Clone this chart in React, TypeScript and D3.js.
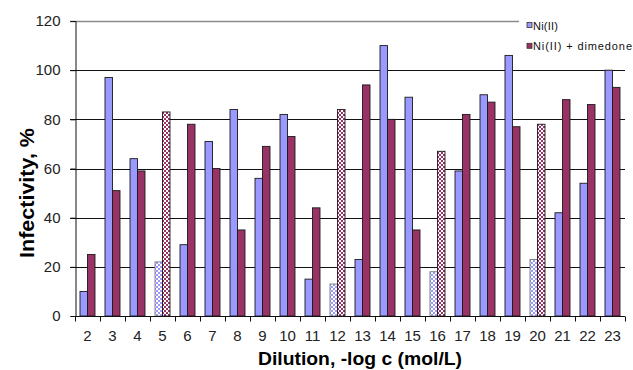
import React, { useEffect, useRef } from 'react';
import * as d3 from 'd3';

// dilution steps (-log c)
const categories = ['2', '3', '4', '5', '6', '7', '8', '9', '10', '11', '12', '13', '14', '15', '16', '17', '18', '19', '20', '21', '22', '23'];
const niValues = [10, 97, 64, 22, 29, 71, 84, 56, 82, 15, 13, 23, 110, 89, 18, 59, 90, 106, 23, 42, 54, 100];
const niDimedoneValues = [25, 51, 59, 83, 78, 60, 35, 69, 73, 44, 84, 94, 80, 35, 67, 82, 87, 77, 78, 88, 86, 93];
// dilutions drawn with the checkered fill
const checkered = ['5', '12', '16', '20'];
const seriesNames = ['Ni(II)', 'Ni(II) + dimedone'];
const yTicks = [0, 20, 40, 60, 80, 100, 120];

const colors = { ni: '#9999ff', dim: '#993366' };
const FONT = '"Liberation Sans", Arial, sans-serif';

function drawChart(node: SVGSVGElement) {
  const svg = d3.select(node);
  svg.selectAll('*').remove();

  const margin = { left: 75, right: 8, top: 21, bottom: 54 };
  const W = 633, H = 370;

  const x = d3.scaleBand().domain(categories).range([margin.left, W - margin.right]).padding(0);
  const xs = d3.scaleBand().domain(seriesNames).range([0, x.bandwidth()]).paddingInner(0).paddingOuter(0.667);
  const y = d3.scaleLinear().domain([0, 120]).range([H - margin.bottom, margin.top]);

  // checker patterns
  const defs = svg.append('defs');
  [['chkNi', colors.ni], ['chkDim', colors.dim]].forEach(([id, c]) => {
    const p = defs.append('pattern')
      .attr('id', id)
      .attr('width', 4).attr('height', 4)
      .attr('patternUnits', 'userSpaceOnUse');
    p.append('rect').attr('width', 4).attr('height', 4).attr('fill', '#fff');
    p.append('rect').attr('width', 2).attr('height', 2).attr('fill', c);
    p.append('rect').attr('x', 2).attr('y', 2).attr('width', 2).attr('height', 2).attr('fill', c);
  });

  // gridlines
  svg.append('g')
    .selectAll('line')
    .data(yTicks.filter(d => d > 0))
    .join('line')
    .attr('x1', margin.left - 5)
    .attr('x2', W - margin.right)
    .attr('y1', d => Math.round(y(d)) + 0.5)
    .attr('y2', d => Math.round(y(d)) + 0.5)
    .attr('stroke', d => (d === 120 ? '#8c8c8c' : '#111'))
    .attr('stroke-width', d => (d === 120 ? 1.5 : 1));

  // bars
  const rows = categories.map((c, i) => ({ cat: c, vals: [niValues[i], niDimedoneValues[i]] }));
  const groups = svg.append('g')
    .selectAll('g')
    .data(rows)
    .join('g')
    .attr('transform', d => 'translate(' + x(d.cat) + ',0)');

  groups.selectAll('rect')
    .data(d => d.vals.map((v, j) => ({ cat: d.cat, name: seriesNames[j], j: j, v: v })))
    .join('rect')
    .attr('x', d => xs(d.name)!)
    .attr('width', xs.bandwidth())
    .attr('y', d => y(d.v))
    .attr('height', d => y(0) - y(d.v))
    .attr('fill', d => {
      const hatched = checkered.indexOf(d.cat) >= 0;
      if (d.j === 0) return hatched ? 'url(#chkNi)' : colors.ni;
      return hatched ? 'url(#chkDim)' : colors.dim;
    })
    .attr('stroke', d => (d.j === 0 && checkered.indexOf(d.cat) >= 0 ? '#777' : '#1a1a1a'))
    .attr('stroke-width', 0.9);

  // y axis
  const yAxis = svg.append('g')
    .attr('transform', 'translate(' + (margin.left + 0.5) + ',0)')
    .call(d3.axisLeft(y).tickValues(yTicks).tickSize(5).tickPadding(10));
  yAxis.select('.domain').attr('stroke', '#111');
  yAxis.selectAll('.tick line').attr('stroke', '#111');
  yAxis.selectAll('text').attr('font-family', FONT).attr('font-size', 15).attr('fill', '#222');

  // x axis, ticks at band edges
  const xAxis = svg.append('g')
    .attr('transform', 'translate(0,' + (y(0) + 0.5) + ')');
  xAxis.append('line')
    .attr('x1', margin.left).attr('x2', W - margin.right)
    .attr('stroke', '#111');
  xAxis.selectAll('line.tk')
    .data(categories.concat(['end']))
    .join('line')
    .attr('class', 'tk')
    .attr('x1', (d, i) => margin.left + i * x.step() + 0.5)
    .attr('x2', (d, i) => margin.left + i * x.step() + 0.5)
    .attr('y1', 0).attr('y2', 5)
    .attr('stroke', '#111');
  xAxis.selectAll('text')
    .data(categories)
    .join('text')
    .attr('x', d => x(d)! + x.bandwidth() / 2)
    .attr('y', 24)
    .attr('text-anchor', 'middle')
    .attr('font-family', FONT)
    .attr('font-size', 15)
    .attr('fill', '#222')
    .text(d => d);

  // axis titles
  svg.append('text')
    .attr('x', 360).attr('y', 365)
    .attr('text-anchor', 'middle')
    .attr('font-family', FONT)
    .attr('font-weight', 'bold')
    .attr('font-size', 19)
    .attr('textLength', 204)
    .attr('lengthAdjust', 'spacingAndGlyphs')
    .text('Dilution, -log c (mol/L)');

  svg.append('text')
    .attr('transform', 'translate(34,193) rotate(-90)')
    .attr('text-anchor', 'middle')
    .attr('font-family', FONT)
    .attr('font-weight', 'bold')
    .attr('font-size', 20)
    .attr('textLength', 130)
    .attr('lengthAdjust', 'spacingAndGlyphs')
    .text('Infectivity, %');

  // legend
  const legend = svg.append('g');
  legend.append('rect')
    .attr('x', 519).attr('y', 10).attr('width', 114).attr('height', 48)
    .attr('fill', '#fff');
  const items = legend.selectAll('g')
    .data(seriesNames)
    .join('g')
    .attr('transform', (d, i) => 'translate(527,' + (22.5 + i * 20.8) + ')');
  items.append('rect')
    .attr('width', 5).attr('height', 5)
    .attr('fill', (d, i) => (i === 0 ? colors.ni : colors.dim))
    .attr('stroke', '#333').attr('stroke-width', 0.8);
  items.append('text')
    .attr('x', 6).attr('y', 7)
    .attr('font-family', FONT)
    .attr('font-size', 11)
    .attr('fill', '#111')
    .attr('textLength', (d, i) => (i === 0 ? 25 : 99))
    .attr('lengthAdjust', 'spacing')
    .text(d => d);
}

export default function App() {
  const ref = useRef<SVGSVGElement>(null);
  useEffect(() => {
    if (ref.current) drawChart(ref.current);
  }, []);
  return (
    <svg ref={ref} width={633} height={370}
      style={{ position: 'absolute', left: 0, top: 0, background: '#fff' }} />
  );
}
